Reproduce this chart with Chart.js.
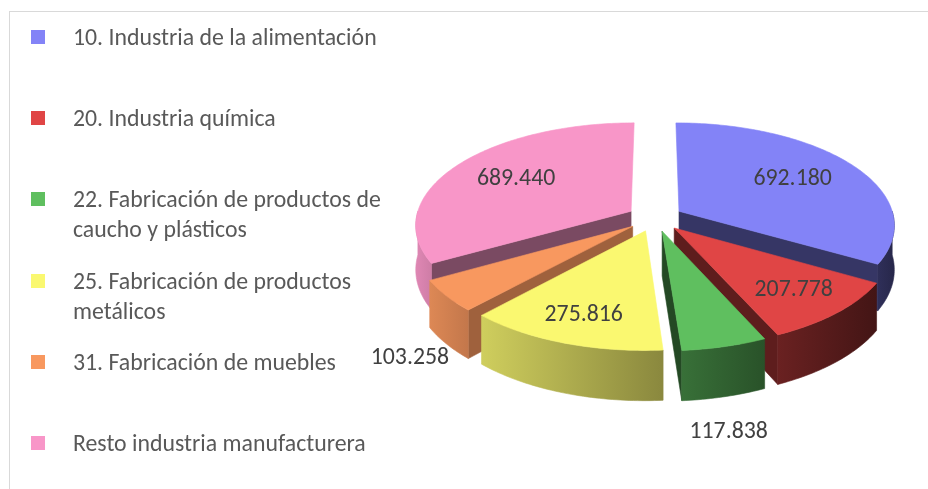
<!DOCTYPE html>
<html lang="es">
<head>
<meta charset="utf-8">
<script src="https://cdn.jsdelivr.net/npm/chart.js@4.4.0/dist/chart.umd.min.js"></script>
<style>
  html, body { margin: 0; padding: 0; background: #fff; }
  #wrap { position: relative; width: 928px; height: 489px; overflow: hidden; }
  #frame { position: absolute; left: 9px; top: 11px; right: -2px; bottom: -2px;
           border-top: 1px solid #d9d9d9; border-left: 1px solid #d9d9d9; }
  #chart { position: absolute; left: 0; top: 0; }
  .lg { position: absolute; left: 31px; font: 23.8px Carlito, Lato, sans-serif; color: #595959; line-height: 30px; }
  .lg i { position: absolute; left: 0; top: 8px; width: 14px; height: 14px; }
  .lg span { display: block; margin-left: 42px; width: 345px; }
</style>
</head>
<body>
<div id="wrap">
  <div id="frame"></div>
  <canvas id="chart" width="928" height="489"></canvas>
  <div id="legend"></div>
</div>
<script>
// data
const categories = [
  '10. Industria de la alimentación',
  '20. Industria química',
  '22. Fabricación de productos de caucho y plásticos',
  '25. Fabricación de productos metálicos',
  '31. Fabricación de muebles',
  'Resto industria manufacturera'
];
const values = [692180, 207778, 117838, 275816, 103258, 689440];
const sliceColors = ['#8383F7', '#E04545', '#5FBF5F', '#FAF870', '#F8985F', '#F896C8'];
const explode = [28, 28, 28, 28, 28, 28];

// look of the fake 3D
const TILT = 0.48;      // vertical squash of the disk
const PERSP = 0.127;    // front bigger than back
const DEPTH = 44;       // wall height in px
const radialShade = [0.41, 0.42, 0.38, 0.46, 0.64, 0.49];
// label spot: fraction of radius along the mid angle, and drop (x DEPTH)
const labelPlacement = [
  { r: 0.65, drop: 0 }, { r: 0.75, drop: 0 }, { r: 1.06, drop: 1.55 },
  { r: 0.77, drop: 0 }, { r: 1.18, drop: 1.0 }, { r: 0.66, drop: 0 }
];

function fmt(n) {
  return String(n).replace(/\B(?=(\d{3})+(?!\d))/g, '.');
}

function shade(hex, k) {
  const n = parseInt(hex.slice(1), 16);
  const c = [(n >> 16) & 255, (n >> 8) & 255, n & 255].map(v => Math.round(Math.min(255, v * k)));
  return `rgb(${c[0]},${c[1]},${c[2]})`;
}

const pie3d = {
  id: 'pie3d',
  beforeDatasetsDraw(chart) {
    const ctx = chart.ctx;
    const arcs = chart.getDatasetMeta(0).data;
    const colors = chart.data.datasets[0].backgroundColor;
    const cx = arcs[0].x, cy = arcs[0].y, R = arcs[0].outerRadius;

    const proj = (u, v, h) => {
      const f = 1 + PERSP * v / R;
      return [cx + u * f, cy + (v * TILT + h) * f];
    };
    const slices = arcs.map((arc, i) => {
      const a0 = arc.startAngle, a1 = arc.endAngle, mid = (a0 + a1) / 2;
      const d = arc.options.offset || 0;
      return { i, a0, a1, mid, ox: d * Math.cos(mid), oy: d * Math.sin(mid), color: colors[i] };
    });
    const rim = (s, a, h) => proj(s.ox + R * Math.cos(a), s.oy + R * Math.sin(a), h);
    const apex = (s, h) => proj(s.ox, s.oy, h);
    const arcPts = (s, from, to, h) => {
      const n = Math.max(2, Math.ceil(Math.abs(to - from) / (Math.PI / 180)));
      const pts = [];
      for (let k = 0; k <= n; k++) pts.push(rim(s, from + (to - from) * k / n, h));
      return pts;
    };
    const fillPoly = (pts, style) => {
      ctx.beginPath();
      ctx.moveTo(pts[0][0], pts[0][1]);
      for (let k = 1; k < pts.length; k++) ctx.lineTo(pts[k][0], pts[k][1]);
      ctx.closePath();
      ctx.fillStyle = style;
      ctx.strokeStyle = style;
      ctx.lineWidth = 0.6;
      ctx.fill();
      ctx.stroke();
    };
    const wallShade = x => Math.max(0.36, Math.min(0.9, 0.62 - 0.26 * (x - cx) / R));

    ctx.save();
    slices.slice().sort((p, q) => Math.sin(p.mid) - Math.sin(q.mid)).forEach(s => {
      const side = shade(s.color, radialShade[s.i]);
      // radial walls
      [[s.a0, Math.cos(s.a0) < -0.001], [s.a1, Math.cos(s.a1) > 0.001]].forEach(([a, vis]) => {
        if (!vis) return;
        fillPoly([apex(s, 0), rim(s, a, 0), rim(s, a, DEPTH), apex(s, DEPTH)], side);
      });
      // outer wall (front half only)
      const lo = Math.max(s.a0, 0), hi = Math.min(s.a1, Math.PI);
      if (hi > lo) {
        const top = arcPts(s, lo, hi, 0);
        const bot = arcPts(s, lo, hi, DEPTH).reverse();
        const pts = top.concat(bot);
        const xs = pts.map(p => p[0]);
        const xL = Math.min(...xs), xR = Math.max(...xs);
        const g = ctx.createLinearGradient(xL, 0, xR, 0);
        g.addColorStop(0, shade(s.color, wallShade(xL)));
        g.addColorStop(1, shade(s.color, wallShade(xR) - 0.06));
        fillPoly(pts, g);
      }
      // top face
      fillPoly([apex(s, 0)].concat(arcPts(s, s.a0, s.a1, 0)), s.color);
    });

    // value labels
    ctx.font = '23.8px Carlito, Lato, sans-serif';
    ctx.fillStyle = '#404040';
    ctx.textAlign = 'center';
    ctx.textBaseline = 'middle';
    slices.forEach(s => {
      const lp = labelPlacement[s.i];
      const p = proj(s.ox + lp.r * R * Math.cos(s.mid), s.oy + lp.r * R * Math.sin(s.mid), lp.drop * DEPTH);
      ctx.fillText(fmt(chart.data.datasets[0].data[s.i]), p[0], p[1]);
    });
    ctx.restore();
    return false;
  }
};

const chart = new Chart(document.getElementById('chart'), {
  type: 'pie',
  data: {
    labels: categories,
    datasets: [{
      data: values,
      backgroundColor: sliceColors,
      offset: explode,
      radius: 215,
      borderWidth: 0
    }]
  },
  options: {
    responsive: false,
    animation: false,
    layout: { padding: { left: 400, right: 18, top: 0, bottom: 53 } },
    plugins: {
      legend: { display: false },
      tooltip: { enabled: false }
    }
  },
  plugins: [pie3d]
});

// legend on the left, one row per category
const legend = document.getElementById('legend');
categories.forEach((name, i) => {
  const row = document.createElement('div');
  row.className = 'lg';
  row.style.top = (22 + i * 81.2) + 'px';
  const box = document.createElement('i');
  box.style.background = sliceColors[i];
  const txt = document.createElement('span');
  txt.textContent = name;
  row.appendChild(box);
  row.appendChild(txt);
  legend.appendChild(row);
});
</script>
</body>
</html>
